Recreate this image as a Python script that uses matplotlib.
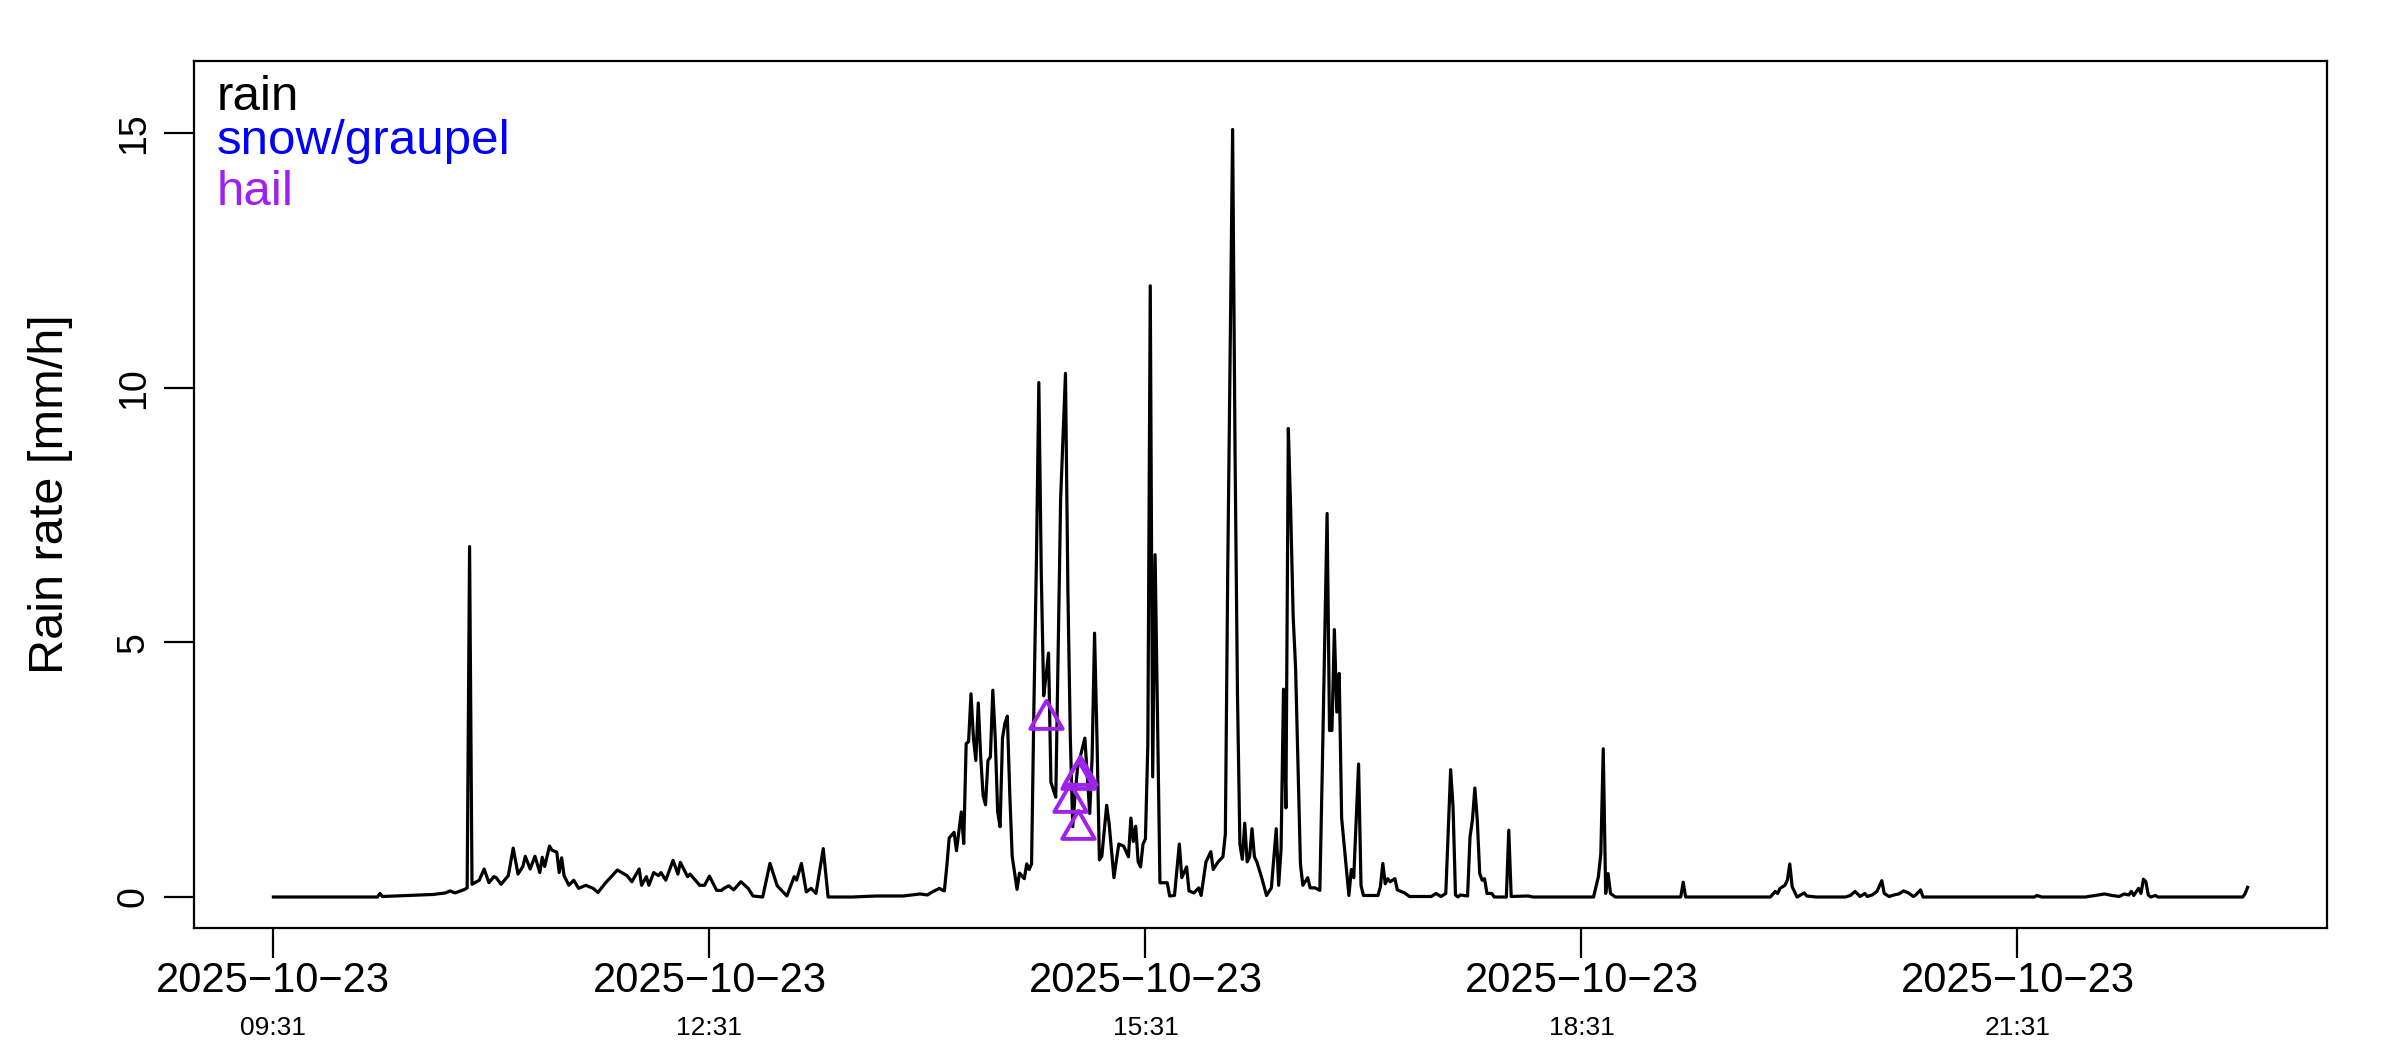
import matplotlib
matplotlib.use("Agg")
import matplotlib.pyplot as plt
import matplotlib.transforms as mtransforms
from matplotlib.path import Path

plt.rcParams['font.family'] = ['Liberation Sans', 'DejaVu Sans']

# rain rate, minutes after 09:31 on 2025-10-23
minutes = [0, 43, 44, 45, 56, 66, 71, 73, 75, 79, 80, 81, 82, 85, 87, 89, 91, 92, 94, 97,
           99, 101, 103, 104, 106, 108, 110, 111, 112, 114, 115, 117, 118, 119, 120, 122, 124, 126, 129, 132,
           134, 137, 142, 146, 148, 151, 152, 154, 155, 157, 159, 160, 162, 165, 167, 168, 171, 172, 176, 178,
           180, 183, 185, 186, 188, 190, 193, 196, 198, 202, 205, 208, 212, 215, 216, 218, 220, 222, 224, 227,
           229, 239, 249, 260, 267, 270, 272, 275, 276, 277, 278, 279, 281, 282, 284, 285, 286, 287, 288, 289,
           290, 291, 292, 293, 294, 295, 296, 297, 298, 299, 300, 301, 302, 303, 304, 305, 307, 308, 310, 311,
           312, 313, 314, 315, 316, 317, 318, 319, 320, 321, 323, 324, 325, 327, 328, 329, 330, 331, 332, 335,
           337, 338, 339, 340, 341, 342, 344, 345, 347, 349, 351, 353, 354, 355, 356, 357, 358, 359, 360, 361,
           362, 363, 364, 365, 366, 369, 370, 372, 374, 375, 377, 378, 380, 382, 383, 385, 387, 388, 390, 392,
           393, 394, 396, 397, 398, 399, 400, 401, 402, 403, 404, 405, 406, 408, 410, 412, 414, 415, 416, 417,
           418, 419, 420, 421, 422, 424, 425, 427, 428, 430, 432, 433, 435, 436, 437, 438, 439, 440, 441, 443,
           444, 445, 446, 448, 449, 450, 456, 457, 458, 459, 460, 461, 463, 464, 467, 469, 478, 480, 482, 484,
           486, 487, 488, 489, 490, 493, 494, 495, 496, 497, 498, 499, 500, 501, 503, 504, 509, 510, 511, 518,
           520, 545, 547, 548, 549, 550, 551, 552, 554, 581, 582, 583, 618, 620, 621, 622, 624, 625, 626, 627,
           629, 632, 633, 637, 649, 651, 653, 655, 657, 658, 660, 662, 664, 665, 667, 669, 671, 673, 675, 677,
           678, 680, 681, 727, 728, 730, 748, 752, 756, 759, 762, 764, 766, 767, 768, 770, 771, 772, 773, 774,
           775, 777, 778, 813, 814, 815]
rain = [0.00, 0.00, 0.07, 0.01, 0.03, 0.05, 0.08, 0.12, 0.08, 0.15, 0.18, 6.88, 0.25, 0.33, 0.55, 0.28, 0.40, 0.38, 0.25, 0.42,
        0.96, 0.45, 0.60, 0.80, 0.55, 0.80, 0.48, 0.78, 0.60, 1.00, 0.92, 0.88, 0.48, 0.77, 0.42, 0.23, 0.33, 0.17, 0.23, 0.17,
        0.09, 0.27, 0.53, 0.42, 0.30, 0.55, 0.23, 0.40, 0.23, 0.48, 0.42, 0.48, 0.33, 0.72, 0.45, 0.68, 0.40, 0.45, 0.23, 0.23,
        0.41, 0.13, 0.13, 0.17, 0.22, 0.14, 0.30, 0.17, 0.02, 0.00, 0.66, 0.22, 0.02, 0.40, 0.33, 0.66, 0.10, 0.17, 0.07, 0.95,
        0.00, 0.00, 0.02, 0.02, 0.06, 0.04, 0.10, 0.17, 0.14, 0.12, 0.60, 1.16, 1.27, 0.91, 1.67, 1.05, 3.01, 3.05, 3.99, 3.12,
        2.68, 3.81, 2.75, 1.99, 1.81, 2.68, 2.75, 4.06, 3.12, 1.67, 1.38, 3.12, 3.41, 3.55, 2.03, 0.80, 0.15, 0.47, 0.36, 0.65,
        0.54, 0.65, 3.84, 6.59, 10.10, 6.38, 3.95, 4.35, 4.79, 2.25, 1.96, 4.92, 7.82, 10.28, 6.01, 3.12, 1.38, 2.03, 2.54, 3.12,
        1.64, 2.75, 5.18, 3.12, 0.73, 0.80, 1.80, 1.45, 0.38, 1.04, 1.00, 0.79, 1.55, 1.09, 1.39, 0.69, 0.59, 1.04, 1.14, 3.00,
        12.00, 2.36, 6.72, 3.47, 0.28, 0.28, 0.02, 0.03, 1.04, 0.38, 0.59, 0.12, 0.08, 0.18, 0.03, 0.69, 0.89, 0.54, 0.69, 0.79,
        1.24, 6.50, 15.07, 8.74, 3.98, 1.04, 0.74, 1.45, 0.69, 0.79, 1.34, 0.79, 0.69, 0.38, 0.03, 0.18, 1.34, 0.23, 0.94, 4.08,
        1.75, 9.20, 7.53, 5.50, 4.49, 0.64, 0.23, 0.38, 0.18, 0.18, 0.13, 2.46, 7.53, 3.27, 3.27, 5.25, 3.63, 4.39, 1.55, 0.54,
        0.03, 0.54, 0.38, 2.61, 0.23, 0.03, 0.03, 0.20, 0.66, 0.26, 0.36, 0.30, 0.36, 0.14, 0.08, 0.01, 0.01, 0.07, 0.01, 0.07,
        2.50, 1.77, 0.04, 0.00, 0.04, 0.02, 1.18, 1.51, 2.14, 1.51, 0.46, 0.33, 0.36, 0.07, 0.07, 0.00, 0.00, 1.31, 0.01, 0.02,
        0.00, 0.00, 0.40, 0.85, 2.91, 0.07, 0.46, 0.07, 0.00, 0.00, 0.29, 0.00, 0.00, 0.11, 0.07, 0.17, 0.23, 0.33, 0.65, 0.20,
        0.00, 0.08, 0.02, 0.00, 0.00, 0.03, 0.11, 0.01, 0.07, 0.01, 0.04, 0.11, 0.32, 0.07, 0.01, 0.04, 0.06, 0.12, 0.08, 0.01,
        0.04, 0.14, 0.00, 0.00, 0.03, 0.00, 0.00, 0.03, 0.06, 0.03, 0.01, 0.06, 0.04, 0.11, 0.03, 0.17, 0.07, 0.35, 0.30, 0.04,
        0.00, 0.03, 0.00, 0.00, 0.07, 0.19]

# hail observations
hail_minutes = [319, 329, 332, 332, 333]
hail_rate = [3.50, 1.87, 1.34, 2.32, 2.40]

tick_minutes = [0, 180, 360, 540, 720]
tick_dates = ['2025\u221210\u221223'] * 5
tick_times = ['09:31', '12:31', '15:31', '18:31', '21:31']

legend_labels = ['rain', 'snow/graupel', 'hail']
legend_colors = ['black', 'blue', '#A020F0']

# R-style open triangle (pch = 2), centred on its centroid
tri = Path([(0, 1), (-0.866, -0.5), (0.866, -0.5), (0, 1)],
           [Path.MOVETO, Path.LINETO, Path.LINETO, Path.CLOSEPOLY])

fig = plt.figure(figsize=(24, 10.5), dpi=100)
ax = fig.add_axes([0.081, 0.1166, 0.8884, 0.8251])

ax.plot(minutes, rain, color='black', lw=2.3)
ax.plot(hail_minutes, hail_rate, linestyle='none', marker=tri, markersize=27,
        markerfacecolor='none', markeredgecolor='#A020F0', markeredgewidth=2.8)

ax.set_xlim(-32.6, 847.6)
ax.set_ylim(-0.6, 16.41)

for s in ax.spines.values():
    s.set_linewidth(1.6)

ax.set_yticks([0, 5, 10, 15])
ax.set_yticklabels(['0', '5', '10', '15'], rotation=90, va='center', fontsize=27)
ax.tick_params(axis='y', length=21.6, width=1.6, pad=9)

ax.set_xticks(tick_minutes)
ax.set_xticklabels(tick_dates, fontsize=30, va='baseline')
ax.tick_params(axis='x', length=21.6, width=1.6, pad=24.5)

trans = mtransforms.blended_transform_factory(ax.transData, ax.transAxes)
for m, t in zip(tick_minutes, tick_times):
    ax.text(m, -0.124, t, transform=trans, ha='center', va='baseline', fontsize=19)

ax.set_ylabel('Rain rate [mm/h]', fontsize=35)
ax.yaxis.set_label_coords(-0.0569, 0.5)

for i, (lab, col) in enumerate(zip(legend_labels, legend_colors)):
    ax.text(0.0106, [0.9437, 0.8929, 0.834][i], lab, color=col, fontsize=35.5,
            transform=ax.transAxes, ha='left', va='baseline')

fig.savefig('out.png', dpi=100)
